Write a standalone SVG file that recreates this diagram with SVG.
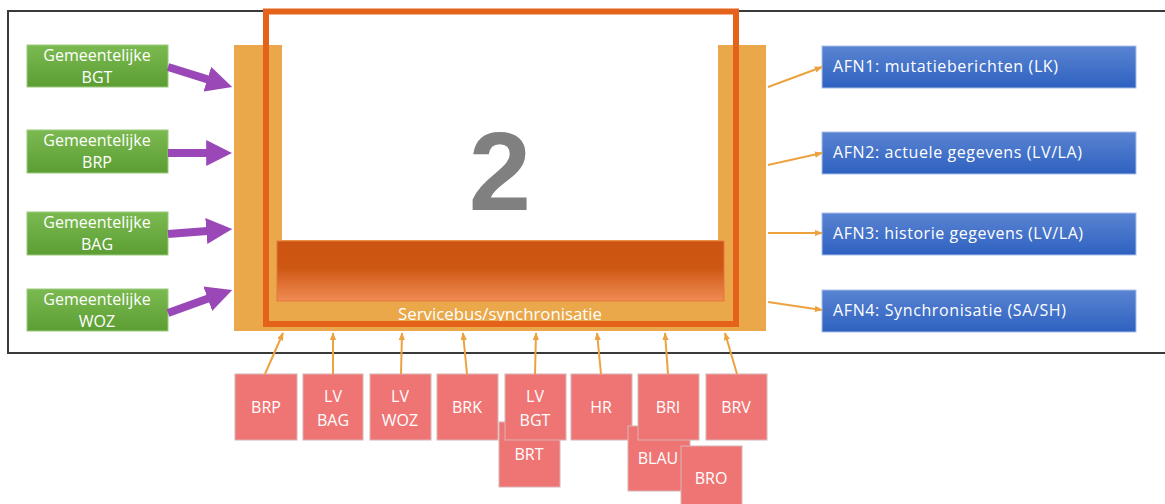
<svg xmlns="http://www.w3.org/2000/svg" width="1165" height="504" viewBox="0 0 1165 504">
<defs>
<linearGradient id="gGreen" x1="0" y1="0" x2="0" y2="1"><stop offset="0" stop-color="#7BBA50"/><stop offset="1" stop-color="#5C9E34"/></linearGradient>
<linearGradient id="gBlue" x1="0" y1="0" x2="0" y2="1"><stop offset="0" stop-color="#5A84D2"/><stop offset="1" stop-color="#2E61C0"/></linearGradient>
<linearGradient id="gBus" x1="0" y1="0" x2="0" y2="1"><stop offset="0" stop-color="#CC5412"/><stop offset="0.45" stop-color="#CE5713"/><stop offset="1" stop-color="#F08C55"/></linearGradient>
<marker id="mPurple" viewBox="0 0 10 10" refX="3" refY="5" markerWidth="3.25" markerHeight="3.25" orient="auto" markerUnits="strokeWidth"><path d="M0,0 L10,5 L0,10 z" fill="#9A48B8"/></marker>
<marker id="mOrange" viewBox="0 0 10 10" refX="9" refY="5" markerWidth="8" markerHeight="8" orient="auto" markerUnits="userSpaceOnUse"><path d="M0,1 L10,5 L0,9 z" fill="#EDA240"/></marker>
</defs>
<style>
.green{fill:url(#gGreen);stroke:#9BCB7E;stroke-width:1}
.blue{fill:url(#gBlue);stroke:#A9BFEA;stroke-width:1}
.red{fill:#EF7575;stroke:#D8B4B4;stroke-width:1}
.wt{fill:#FFFFFF;font-family:"Open Sans",Lato,"Liberation Sans",sans-serif;font-size:16px}
.c{text-anchor:middle}
.pa{stroke:#9A48B8;stroke-width:8;fill:none;marker-end:url(#mPurple)}
.oa{stroke:#EDA240;stroke-width:2;fill:none;marker-end:url(#mOrange)}
</style>
<rect width="1165" height="504" fill="#FFFFFF"/>
<path d="M1165,11 H8 V353 H1165" fill="none" stroke="#3A3A3A" stroke-width="2"/>

<g id="core">
<rect x="234" y="45" width="48" height="286" fill="#EAA84A"/>
<rect x="718" y="45" width="48" height="286" fill="#EAA84A"/>
<rect x="234" y="240" width="532" height="91" fill="#EAA84A"/>
<rect x="277" y="241" width="447" height="60" fill="url(#gBus)" stroke="#E8763A" stroke-width="1"/>
<text x="500" y="210" text-anchor="middle" font-family="'Liberation Sans',Arial,sans-serif" font-weight="bold" font-size="112" fill="#808080">2</text>
<text x="500" y="320" class="wt c" font-size="15" textLength="204" lengthAdjust="spacingAndGlyphs">Servicebus/synchronisatie</text>
<rect x="266" y="11.5" width="470" height="312.5" fill="none" stroke="#E5621A" stroke-width="6"/>
</g>

<g id="src-bgt"><rect class="green" x="27" y="45" width="141" height="42"/><text class="wt c" x="97" y="61">Gemeentelijke</text><text class="wt c" x="97" y="83">BGT</text></g>
<g id="src-brp"><rect class="green" x="27" y="130" width="141" height="43"/><text class="wt c" x="97" y="146">Gemeentelijke</text><text class="wt c" x="97" y="168">BRP</text></g>
<g id="src-bag"><rect class="green" x="27" y="212" width="141" height="43"/><text class="wt c" x="97" y="228">Gemeentelijke</text><text class="wt c" x="97" y="250">BAG</text></g>
<g id="src-woz"><rect class="green" x="27" y="289" width="141" height="42"/><text class="wt c" x="97" y="305">Gemeentelijke</text><text class="wt c" x="97" y="327">WOZ</text></g>

<g id="afn1"><rect class="blue" x="822" y="46" width="314" height="42"/><text class="wt" x="833" y="72" textLength="225" lengthAdjust="spacing">AFN1: mutatieberichten  (LK)</text></g>
<g id="afn2"><rect class="blue" x="822" y="132" width="314" height="42"/><text class="wt" x="833" y="158" textLength="249" lengthAdjust="spacing">AFN2: actuele  gegevens (LV/LA)</text></g>
<g id="afn3"><rect class="blue" x="822" y="213" width="314" height="42"/><text class="wt" x="833" y="239" textLength="250" lengthAdjust="spacing">AFN3: historie  gegevens (LV/LA)</text></g>
<g id="afn4"><rect class="blue" x="822" y="290" width="314" height="42"/><text class="wt" x="833" y="316" textLength="233" lengthAdjust="spacing">AFN4: Synchronisatie  (SA/SH)</text></g>

<g id="brp"><rect class="red" x="235" y="374" width="62" height="66"/><text class="wt c" x="266" y="413">BRP</text></g>
<g id="lv-bag"><rect class="red" x="303" y="374" width="60" height="66"/><text class="wt c" x="333" y="402">LV</text><text class="wt c" x="333" y="426">BAG</text></g>
<g id="lv-woz"><rect class="red" x="370" y="374" width="61" height="66"/><text class="wt c" x="400" y="402">LV</text><text class="wt c" x="400" y="426">WOZ</text></g>
<g id="brk"><rect class="red" x="437" y="374" width="61" height="66"/><text class="wt c" x="467" y="413">BRK</text></g>
<g id="brt"><rect class="red" x="499" y="422" width="61" height="65"/><text class="wt c" x="529" y="460">BRT</text></g>
<g id="lv-bgt"><rect class="red" x="505" y="374" width="61" height="66"/><text class="wt c" x="535" y="402">LV</text><text class="wt c" x="535" y="426">BGT</text></g>
<g id="hr"><rect class="red" x="571" y="374" width="61" height="66"/><text class="wt c" x="601" y="413">HR</text></g>
<g id="blau"><rect class="red" x="628" y="426" width="62" height="65"/><text class="wt c" x="658" y="464">BLAU</text></g>
<g id="bri"><rect class="red" x="638" y="374" width="61" height="66"/><text class="wt c" x="668" y="413">BRI</text></g>
<g id="bro"><rect class="red" x="681" y="446" width="61" height="62"/><text class="wt c" x="711" y="484">BRO</text></g>
<g id="brv"><rect class="red" x="706" y="374" width="61" height="66"/><text class="wt c" x="736" y="413">BRV</text></g>

<g id="connectors">
<path class="pa" d="M168,67 L214.8,81.6"/>
<path class="pa" d="M168,153 L214,153"/>
<path class="pa" d="M168,234 L214.1,230.4"/>
<path class="pa" d="M168,313 L215.1,296.1"/>
<path class="oa" d="M768,87 L822,67"/>
<path class="oa" d="M768,165 L822,153"/>
<path class="oa" d="M768,233 L822,233"/>
<path class="oa" d="M768,302 L822,310"/>
<path class="oa" d="M265,374 L283,333"/>
<path class="oa" d="M333,374 L333,333"/>
<path class="oa" d="M401,374 L402,333"/>
<path class="oa" d="M467,374 L463,333"/>
<path class="oa" d="M535,374 L536,333"/>
<path class="oa" d="M601,374 L597,333"/>
<path class="oa" d="M668,374 L665,333"/>
<path class="oa" d="M737,374 L725,333"/>
</g>
</svg>
